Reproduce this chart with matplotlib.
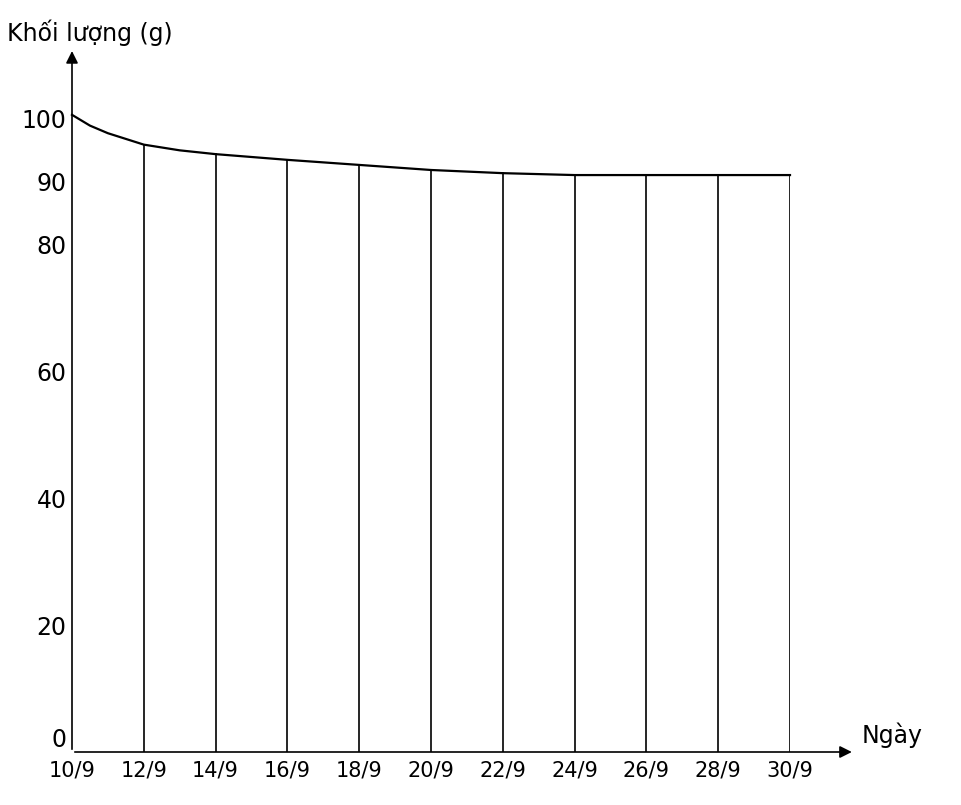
import matplotlib.pyplot as plt

# days after 10/9, and mass
days = [0, 0.5, 1, 2, 3, 4, 6, 8, 10, 12, 14, 16, 18, 20]
mass = [100.5, 98.8, 97.6, 95.8, 94.9, 94.3, 93.4, 92.6, 91.8, 91.3, 91.0, 91.0, 91.0, 91.0]
tick_days = list(range(0, 21, 2))
tick_labels = ["10/9", "12/9", "14/9", "16/9", "18/9", "20/9",
               "22/9", "24/9", "26/9", "28/9", "30/9"]
y_ticks = [0, 20, 40, 60, 80, 90, 100]

fig = plt.figure(figsize=(9.62, 8.05), dpi=100)
ax = fig.add_axes([72 / 962, 53 / 805, 718 / 962, 634 / 805])
ax.set_xlim(0, 20)
ax.set_ylim(0, 100)
for s in ax.spines.values():
    s.set_visible(False)

ax.plot(days, mass, color="black", lw=1.6, clip_on=False)
for d in tick_days[1:]:
    top = mass[days.index(d)]
    ax.plot([d, d], [0, top], color="black", lw=1.2)

ax.set_xticks(tick_days)
ax.set_xticklabels(tick_labels, fontsize=15)
ax.set_yticks(y_ticks)
ylabels = ax.set_yticklabels([str(v) for v in y_ticks], fontsize=17)
ylabels[0].set_va("bottom")
ax.tick_params(length=0, pad=6)
ax.tick_params(axis="y", pad=4)

ax.annotate("", xy=(0, 111), xytext=(0, 0), annotation_clip=False,
            arrowprops=dict(arrowstyle="-|>", color="black", lw=1.2, mutation_scale=18))
ax.annotate("", xy=(21.8, 0), xytext=(0, 0), annotation_clip=False,
            arrowprops=dict(arrowstyle="-|>", color="black", lw=1.2, mutation_scale=18))
ax.text(-1.8, 113.5, "Khối lượng (g)", fontsize=17, va="center", ha="left")
ax.text(22.0, 0.6, "Ngày", fontsize=17, va="bottom", ha="left")

fig.savefig("out.png", dpi=100)
